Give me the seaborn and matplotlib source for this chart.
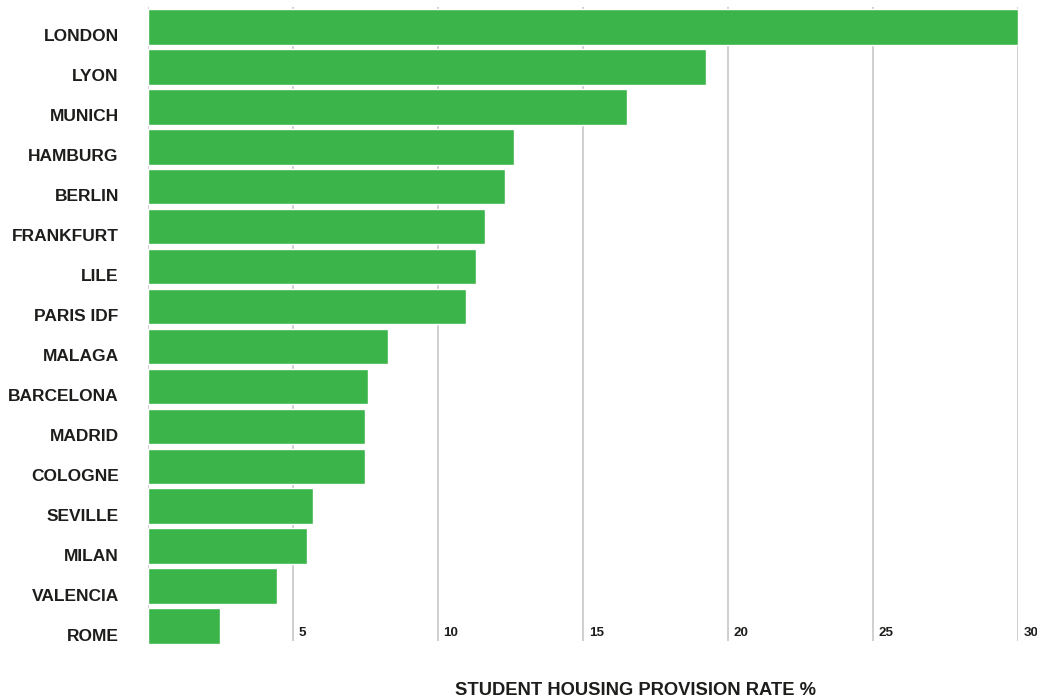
import matplotlib
matplotlib.use("Agg")
import matplotlib.pyplot as plt
import matplotlib.transforms as mtransforms
import seaborn as sns
import pandas as pd

cities = ["LONDON", "LYON", "MUNICH", "HAMBURG", "BERLIN", "FRANKFURT", "LILE",
          "PARIS IDF", "MALAGA", "BARCELONA", "MADRID", "COLOGNE", "SEVILLE",
          "MILAN", "VALENCIA", "ROME"]
rates = [30.0, 19.25, 16.5, 12.6, 12.32, 11.6, 11.32, 10.95, 8.27, 7.6, 7.47,
         7.47, 5.68, 5.47, 4.45, 2.48]
x_ticks = [5, 10, 15, 20, 25, 30]
x_title = "STUDENT HOUSING PROVISION RATE %"

GREEN = "#3BB54A"
TEXT = "#1d1d1b"
FONT = ["Liberation Sans", "DejaVu Sans"]

sns.set_theme(style="white")
plt.rcParams["font.family"] = FONT

df = pd.DataFrame({"city": cities, "rate": rates})

fig = plt.figure(figsize=(10.37, 6.99), dpi=100)
W, H = 1037, 699
ax = fig.add_axes([148 / W, (H - 641) / H, (1018.3 - 148) / W, (641 - 7) / H])

# grid lines behind bars
for t in [0] + x_ticks:
    ax.axvline(t, color="#cfcfcf", lw=1.4, zorder=0)

sns.barplot(data=df, x="rate", y="city", color=GREEN, saturation=1,
            width=0.89, ax=ax, zorder=2)
for p in ax.patches:
    p.set_clip_on(False)

ax.set_xlim(0, 30)
ax.set_ylim(15.375, -0.5)
for s in ax.spines.values():
    s.set_visible(False)
ax.set_xlabel("")
ax.set_ylabel("")
ax.set_xticks([])
ax.tick_params(axis="y", length=0, pad=21)

for lab in ax.get_yticklabels():
    lab.set_fontsize(12.5)
    lab.set_fontweight("bold")
    lab.set_color(TEXT)
    lab.set_transform(lab.get_transform() +
                      mtransforms.ScaledTranslation(0, -8.5 / 100, fig.dpi_scale_trans))

xt = mtransforms.blended_transform_factory(ax.transData, ax.transAxes)
for t in x_ticks:
    ax.text(t, 0, str(t), transform=xt + mtransforms.ScaledTranslation(
        5.5 / 100, 1.5 / 100, fig.dpi_scale_trans),
        ha="left", va="bottom", fontsize=9.6, fontweight="bold", color=TEXT,
        clip_on=False)

fig.text(635.5 / W, 1 - 690.5 / H, x_title, ha="center", va="center",
         fontsize=13.2, fontweight="bold", color=TEXT)

fig.savefig("out.png", dpi=100, facecolor="white")
